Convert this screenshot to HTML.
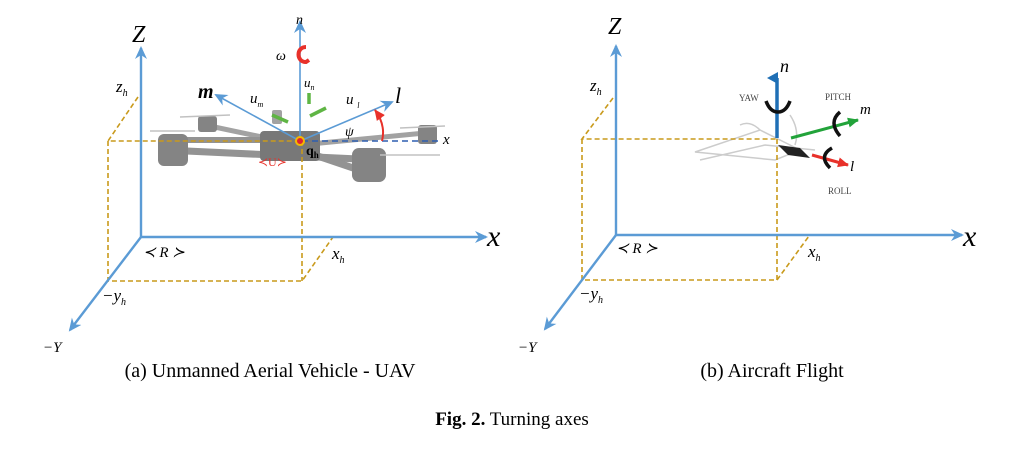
<!DOCTYPE html>
<html><head><style>
html,body{margin:0;padding:0;background:#fff;}
svg{display:block;}
text{font-family:"Liberation Serif",serif;}
</style></head><body>
<svg width="1024" height="450" viewBox="0 0 1024 450" xmlns="http://www.w3.org/2000/svg">
<defs>
<marker id="ab" markerWidth="14" markerHeight="14" refX="11" refY="7" orient="auto" markerUnits="userSpaceOnUse"><path d="M0,1 L13,7 L0,13 L4,7 Z" fill="#5b9bd5"/></marker>
<marker id="ag" markerWidth="12" markerHeight="12" refX="10" refY="6" orient="auto" markerUnits="userSpaceOnUse"><path d="M0,1 L11,6 L0,11 Z" fill="#22a33a"/></marker>
<marker id="ar" markerWidth="12" markerHeight="12" refX="10" refY="6" orient="auto" markerUnits="userSpaceOnUse"><path d="M0,1 L11,6 L0,11 Z" fill="#e8312a"/></marker>
<marker id="an" markerWidth="12" markerHeight="12" refX="6" refY="10" orient="auto-start-reverse" markerUnits="userSpaceOnUse"><path d="M0,11 L6,0 L12,11 Z" fill="#1f6fb5"/></marker>
</defs>

<!-- ===== Left panel ===== -->
<g fill="#777" stroke="none" opacity="0.9">
<line x1="165" y1="150" x2="380" y2="160" stroke="#888" stroke-width="7"/>
<line x1="205" y1="125" x2="300" y2="145" stroke="#999" stroke-width="5"/>
<line x1="300" y1="145" x2="425" y2="133" stroke="#999" stroke-width="5"/>
<line x1="170" y1="140" x2="300" y2="140" stroke="#888" stroke-width="6"/>
<line x1="300" y1="150" x2="365" y2="172" stroke="#888" stroke-width="7"/>
<rect x="158" y="134" width="30" height="32" rx="6"/>
<rect x="352" y="148" width="34" height="34" rx="7"/>
<rect x="418" y="125" width="19" height="19" rx="3"/>
<rect x="198" y="116" width="19" height="16" rx="3"/>
<rect x="260" y="131" width="60" height="30" rx="4" fill="#6a6a6a"/>
<rect x="272" y="110" width="10" height="14" rx="2" fill="#999"/>
<line x1="180" y1="117" x2="230" y2="115" stroke="#bbb" stroke-width="1.5"/>
<line x1="400" y1="128" x2="445" y2="126" stroke="#bbb" stroke-width="1.5"/>
<line x1="150" y1="131" x2="195" y2="131" stroke="#bbb" stroke-width="1.5"/>
<line x1="380" y1="155" x2="440" y2="155" stroke="#bbb" stroke-width="1.5"/>
</g>
<g stroke="#c99a1c" stroke-width="1.6" stroke-dasharray="5,3" fill="none">
<path d="M138,97 L108,141 L300,141"/>
<path d="M108,141 L108,281 L302,281 L333,237"/>
<path d="M302,141 L302,281"/>
</g>
<g stroke="#5b9bd5" stroke-width="2.4" fill="none">
<line x1="141" y1="237" x2="141" y2="48" marker-end="url(#ab)"/>
<line x1="141" y1="237" x2="486" y2="237" marker-end="url(#ab)"/>
<line x1="141" y1="237" x2="70" y2="330" marker-end="url(#ab)"/>
<line x1="300" y1="141" x2="300" y2="22" marker-end="url(#ab)" stroke-width="1.6"/>
<line x1="300" y1="141" x2="216" y2="95" marker-end="url(#ab)" stroke-width="1.6"/>
<line x1="300" y1="141" x2="392" y2="102" marker-end="url(#ab)" stroke-width="1.6"/>
</g>
<line x1="302" y1="141" x2="440" y2="141" stroke="#2f5fb0" stroke-width="1.5" stroke-dasharray="6,4"/>
<path d="M382,141 Q386,125 375,110" stroke="#e8312a" stroke-width="2" fill="none" marker-end="url(#ar)"/>
<g stroke="#5fb544" stroke-width="3.5">
<line x1="272" y1="115" x2="288" y2="122"/>
<line x1="310" y1="116" x2="326" y2="108"/>
<line x1="309" y1="104" x2="309" y2="93"/>
</g>
<path d="M306,47 C296,47 296,62 306,62 L309,60" stroke="#e8312a" stroke-width="4" fill="none"/>
<circle cx="300" cy="141" r="4" fill="#d23" stroke="#f5b800" stroke-width="2"/>
<text x="296" y="24" font-size="14" font-style="italic">n</text>
<text x="276" y="60" font-size="14" font-style="italic">ω</text>
<text x="304" y="87" font-size="13" font-style="italic">u<tspan font-size="8" dy="3">n</tspan></text>
<text x="250" y="103" font-size="15" font-style="italic">u<tspan font-size="8" dy="4">m</tspan></text>
<text x="346" y="104" font-size="15" font-style="italic">u <tspan font-size="8" dy="4">l</tspan></text>
<text x="198" y="98" font-size="20" font-style="italic" font-weight="bold">m</text>
<text x="395" y="103" font-size="22" font-style="italic">l</text>
<text x="345" y="136" font-size="14" font-style="italic">ψ</text>
<text x="443" y="144" font-size="15" font-style="italic">x</text>
<text x="306" y="155" font-size="14" font-weight="bold">q<tspan font-size="9" dy="3">h</tspan></text>
<text x="258" y="166" font-size="12" fill="#e8312a">≺U≻</text>
<text x="132" y="42" font-size="24" font-style="italic">Z</text>
<text x="116" y="92" font-size="17" font-style="italic">z<tspan font-size="10" dy="4">h</tspan></text>
<text x="487" y="246" font-size="30" font-style="italic">x</text>
<text x="143" y="257" font-size="15" font-style="italic">≺ R ≻</text>
<text x="332" y="259" font-size="17" font-style="italic">x<tspan font-size="10" dy="4">h</tspan></text>
<text x="102" y="301" font-size="17" font-style="italic">−y<tspan font-size="10" dy="4">h</tspan></text>
<text x="43" y="352" font-size="15" font-style="italic">−Y</text>

<!-- ===== Right panel ===== -->
<g stroke="#ccc" stroke-width="1.5" fill="none">
<path d="M695,152 L760,130 L800,150 L775,160 Z"/>
<path d="M700,160 L765,145 L815,150"/>
<path d="M740,125 Q750,120 760,130"/>
<path d="M790,115 Q800,130 795,145"/>
</g>
<path d="M778,145 L800,148 L810,158 L788,155 Z" fill="#222"/>
<g stroke="#c99a1c" stroke-width="1.6" stroke-dasharray="5,3" fill="none">
<path d="M613,98 L582,139 L777,139"/>
<path d="M582,139 L582,280 L777,280 L809,236"/>
<path d="M777,139 L777,280"/>
</g>
<g stroke="#5b9bd5" stroke-width="2.4" fill="none">
<line x1="616" y1="235" x2="616" y2="46" marker-end="url(#ab)"/>
<line x1="616" y1="235" x2="962" y2="235" marker-end="url(#ab)"/>
<line x1="616" y1="235" x2="545" y2="329" marker-end="url(#ab)"/>
</g>
<line x1="777" y1="138" x2="777" y2="78" stroke="#1f6fb5" stroke-width="3.5" marker-end="url(#an)"/>
<line x1="791" y1="138" x2="858" y2="120" stroke="#22a33a" stroke-width="3" marker-end="url(#ag)"/>
<line x1="812" y1="155" x2="848" y2="165" stroke="#e8312a" stroke-width="3" marker-end="url(#ar)"/>
<g stroke="#111" stroke-width="3.5" fill="none">
<path d="M766,101 Q770,112 778,112 Q786,112 790,101"/>
<path d="M840,112 Q828,122 840,136"/>
<path d="M832,148 Q818,156 830,168"/>
</g>
<text x="780" y="72" font-size="18" font-style="italic">n</text>
<text x="739" y="101" font-size="9" fill="#444">YAW</text>
<text x="825" y="100" font-size="9" fill="#444">PITCH</text>
<text x="828" y="194" font-size="9" fill="#444">ROLL</text>
<text x="860" y="114" font-size="15" font-style="italic">m</text>
<text x="850" y="171" font-size="15" font-style="italic">l</text>
<text x="608" y="34" font-size="24" font-style="italic">Z</text>
<text x="590" y="91" font-size="17" font-style="italic">z<tspan font-size="10" dy="4">h</tspan></text>
<text x="963" y="246" font-size="30" font-style="italic">x</text>
<text x="616" y="253" font-size="15" font-style="italic">≺ R ≻</text>
<text x="808" y="257" font-size="17" font-style="italic">x<tspan font-size="10" dy="4">h</tspan></text>
<text x="579" y="299" font-size="17" font-style="italic">−y<tspan font-size="10" dy="4">h</tspan></text>
<text x="518" y="352" font-size="15" font-style="italic">−Y</text>

<text x="270" y="377" font-size="20" text-anchor="middle">(a) Unmanned Aerial Vehicle - UAV</text>
<text x="772" y="377" font-size="20" text-anchor="middle">(b) Aircraft Flight</text>
<text x="512" y="425" font-size="19" text-anchor="middle"><tspan font-weight="bold">Fig. 2.</tspan>  Turning axes</text>
</svg>
</body></html>
